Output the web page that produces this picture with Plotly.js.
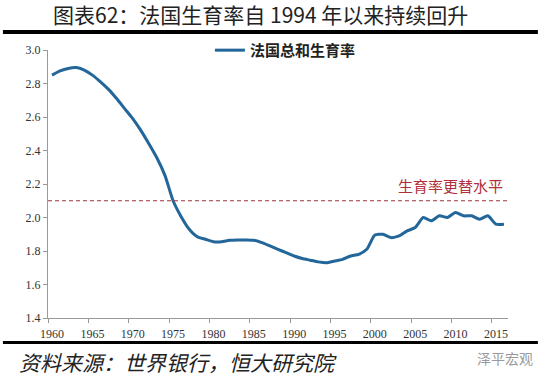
<!DOCTYPE html>
<html>
<head>
<meta charset="utf-8">
<script src="https://cdn.plot.ly/plotly-3.0.1.min.js"></script>
<style>
html,body{margin:0;padding:0;background:#fff;}
#chart{width:550px;height:378px;}
</style>
</head>
<body>
<div id="chart"></div>
<script>
var years = [1960,1961,1962,1963,1964,1965,1966,1967,1968,1969,
             1970,1971,1972,1973,1974,1975,1976,1977,1978,1979,
             1980,1981,1982,1983,1984,1985,1986,1987,1988,1989,
             1990,1991,1992,1993,1994,1995,1996,1997,1998,1999,
             2000,2001,2002,2003,2004,2005,2006,2007,2008,2009,
             2010,2011,2012,2013,2014,2015,2016];
var fertility = [2.85,2.875,2.89,2.895,2.88,2.85,2.81,2.765,2.71,2.65,
                 2.59,2.52,2.44,2.355,2.25,2.10,2.005,1.93,1.885,1.87,
                 1.855,1.855,1.864,1.866,1.866,1.864,1.85,1.83,1.81,1.79,
                 1.77,1.755,1.745,1.735,1.73,1.74,1.75,1.77,1.78,1.81,
                 1.895,1.90,1.88,1.89,1.92,1.94,2.00,1.98,2.01,2.00,
                 2.03,2.01,2.01,1.99,2.01,1.96,1.96];
var replacementLevel = 2.1;
var seriesName = '法国总和生育率';
var replacementLabel = '生育率更替水平';
var yTicks = [1.4,1.6,1.8,2.0,2.2,2.4,2.6,2.8,3.0];
var xTickLabels = [1960,1965,1970,1975,1980,1985,1990,1995,2000,2005,2010,2015];
var xTickBounds = xTickLabels.map(function(v){return v-0.5;});
var titleText = '图表62：法国生育率自 1994 年以来持续回升';
var sourceText = '资料来源：世界银行，恒大研究院';
var watermarkText = '泽平宏观';

var serif = 'Liberation Serif, Times New Roman, serif';
var cjk = 'Noto Sans CJK SC, sans-serif';

var traces = [
  {x: years, y: fertility, type: 'scatter', mode: 'lines', name: seriesName,
   line: {color: '#22669A', width: 3, shape: 'spline', smoothing: 0.6}},
  {x: [], y: [], type: 'scatter', mode: 'lines', xaxis: 'x2', showlegend: false, hoverinfo: 'skip'}
];

var layout = {
  width: 550, height: 378,
  margin: {l: 48, r: 42, t: 50, b: 60},
  paper_bgcolor: '#fff', plot_bgcolor: '#fff',
  showlegend: true,
  legend: {x: 0.352, y: 1.06, xanchor: 'left', yanchor: 'top', bgcolor: 'rgba(0,0,0,0)',
           font: {family: cjk, size: 15, color: '#222', weight: 'bold'}},
  xaxis: {range: [1959.5, 2016.5], tickmode: 'array', tickvals: xTickLabels,
          ticktext: xTickLabels.map(String), ticks: 'outside', ticklen: 5, tickcolor: 'rgba(0,0,0,0)',
          showline: true, linecolor: '#9a9a9a', linewidth: 1, showgrid: false, zeroline: false,
          tickfont: {family: serif, size: 12, color: '#333'}},
  xaxis2: {range: [1959.5, 2016.5], overlaying: 'x', anchor: 'y', side: 'bottom',
           tickmode: 'array', tickvals: xTickBounds, ticks: 'outside', ticklen: 4,
           tickcolor: '#9a9a9a', showticklabels: false, showgrid: false, zeroline: false, showline: false},
  yaxis: {range: [1.4, 3.0], tickmode: 'array', tickvals: yTicks, tickformat: '.1f',
          ticks: 'outside', ticklen: 4, tickcolor: '#9a9a9a',
          showline: true, linecolor: '#9a9a9a', linewidth: 1, showgrid: false, zeroline: false,
          tickfont: {family: serif, size: 12, color: '#333'}},
  shapes: [
    {type: 'line', xref: 'paper', yref: 'y', x0: 0, x1: 1.004, y0: replacementLevel, y1: replacementLevel,
     line: {color: '#A0333A', width: 1, dash: '4px,3px'}},
    {type: 'rect', xref: 'paper', yref: 'paper', x0: -0.098, x1: 1.065, y0: 1.060, y1: 1.0746,
     fillcolor: '#000', line: {width: 0}},
    {type: 'rect', xref: 'paper', yref: 'paper', x0: -0.098, x1: 1.065, y0: -0.097, y1: -0.0858,
     fillcolor: '#000', line: {width: 0}}
  ],
  annotations: [
    {text: titleText, xref: 'paper', yref: 'paper', x: (260-48)/460, y: (318-14)/268,
     xanchor: 'center', yanchor: 'middle', showarrow: false,
     font: {family: cjk, size: 21, color: '#222'}},
    {text: replacementLabel, xref: 'paper', yref: 'y', x: (450-48)/460, y: replacementLevel,
     xanchor: 'center', yanchor: 'bottom', yshift: 3, showarrow: false,
     font: {family: cjk, size: 15, color: '#B0303A'}},
    {text: '<i>' + sourceText + '</i>', xref: 'paper', yref: 'paper', x: (17-48)/460, y: (318-362)/268,
     xanchor: 'left', yanchor: 'middle', showarrow: false,
     font: {family: cjk, size: 21, color: '#222'}},
    {text: watermarkText, xref: 'paper', yref: 'paper', x: (535-48)/460, y: (318-358)/268,
     xanchor: 'right', yanchor: 'middle', showarrow: false,
     font: {family: cjk, size: 14, color: '#9a9a9a'}}
  ]
};

Plotly.newPlot('chart', traces, layout, {staticPlot: true, displayModeBar: false});
</script>
</body>
</html>
